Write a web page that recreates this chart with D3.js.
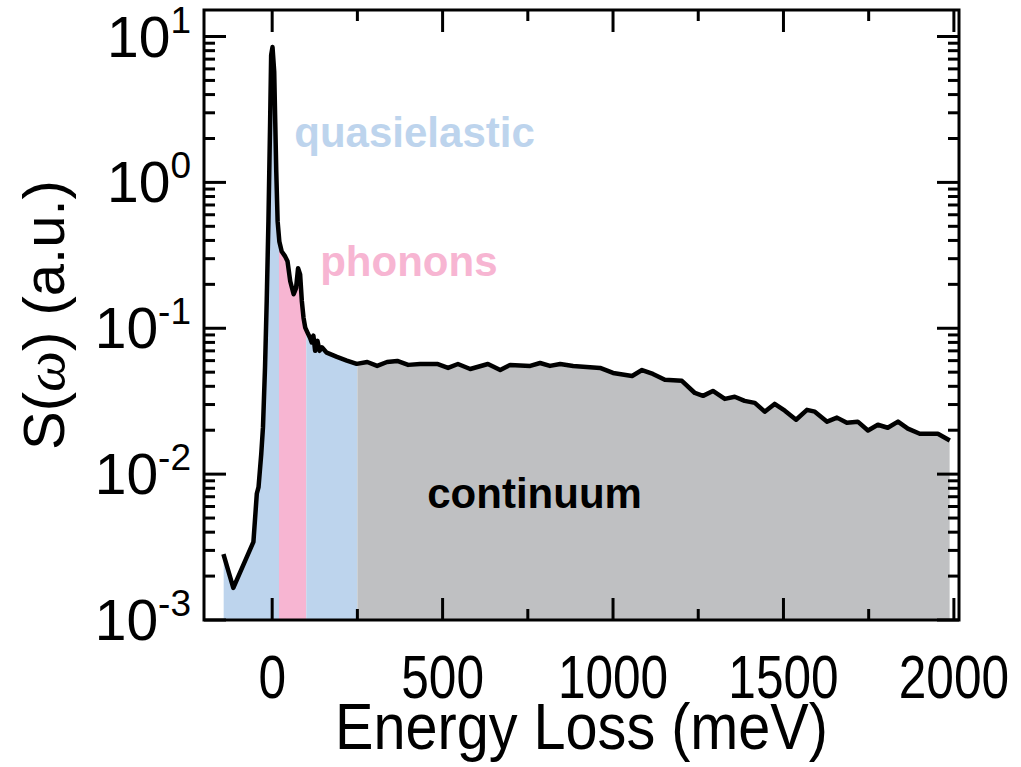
<!DOCTYPE html>
<html>
<head>
<meta charset="utf-8">
<script src="https://cdn.jsdelivr.net/npm/d3@7"></script>
<style>
body{margin:0;background:#fff;}
svg{display:block;font-family:"Liberation Sans",Arial,sans-serif;}
</style>
</head>
<body>
<svg width="1021" height="767"></svg>
<script>
// spectrum (meV, a.u.)
var energy=[-143,-114,-55,-45,-40,-32,-27,-21,-16,-11,-6,-3,1,6,9,12,16,21,28,38,45,53,63,70,76,82,87,92,97,104,111,116,121,126,133,139,146,160,190,219,248,
279,308,337,367,399,434,484,516,545,581,633,669,698,757,786,815,845,883,962,1000,1056,1085,1117,1152,1202,1240,1264,1293,1328,1357,1386,1416,1445,1474,1504,1537,1569,1592,1628,1657,1686,1718,1748,1777,1806,1836,1865,1900,1953,1988];
var intensity=[0.00283,0.00166,0.00343,0.00737,0.00814,0.0138,0.0209,0.0537,0.154,0.540,2.60,7.46,8.47,5.71,2.60,1.19,0.540,0.394,0.336,0.311,0.288,0.210,0.171,0.188,0.258,0.234,0.154,0.118,0.101,0.093,0.086,0.080,0.089,0.070,0.082,0.070,0.074,0.068,0.0636,0.060,0.057,
0.0587,0.0552,0.0587,0.0597,0.0561,0.0569,0.0569,0.0535,0.0569,0.0526,0.0569,0.0517,0.0561,0.0552,0.0578,0.0552,0.0569,0.0552,0.0535,0.0494,0.0471,0.0517,0.0486,0.0443,0.0436,0.0360,0.0344,0.0372,0.0328,0.0339,0.0318,0.0308,0.0268,0.0303,0.0272,0.0236,0.0276,0.0268,0.0229,0.0244,0.0225,0.0229,0.0199,0.0218,0.0208,0.0229,0.0205,0.0189,0.0189,0.0170];

var regionStart=[-143,20,100,250];
var regionEnd=[20,100,250,1988];
var regionKind=['quasielastic','phonons','quasielastic','continuum'];
var labelNames=['quasielastic','phonons','continuum'];
var xTicks=[0,500,1000,1500,2000];
var xMinor=[-250,250,750,1250,1750];
var yExps=[1,0,-1,-2,-3];

var colors={quasielastic:'#bdd4ed',phonons:'#f7b5d2',continuum:'#bfc0c2'};

var svg=d3.select('svg');
var L=204,R=959,T=10,B=620;

var x=d3.scaleLinear().domain([-200,2015]).range([L,R]);
var y=d3.scaleLog().domain([1e-3,15.2]).range([B,T]);

var pts=energy.map(function(e,i){return [e,intensity[i]];});

var area=d3.area().x(function(d){return x(d[0]);}).y0(y(1e-3)).y1(function(d){return y(d[1]);});
var line=d3.line().x(function(d){return x(d[0]);}).y(function(d){return y(d[1]);});

var defs=svg.append('defs');
regionStart.forEach(function(s,i){
  defs.append('clipPath').attr('id','reg'+i).append('rect')
    .attr('x',x(s)).attr('y',T).attr('width',x(regionEnd[i])-x(s)).attr('height',B-T);
  svg.append('path').datum(pts).attr('d',area).attr('fill',colors[regionKind[i]]).attr('clip-path','url(#reg'+i+')');
});

svg.append('path').datum(pts).attr('d',line).attr('fill','none').attr('stroke','#000')
  .attr('stroke-width',4.5).attr('stroke-linejoin','round');

// frame and inward ticks
var g=svg.append('g').attr('stroke','#000').attr('stroke-width',3);
xTicks.concat(xMinor).forEach(function(t){
  if(t<-200||t>2015)return;
  var len=xTicks.indexOf(t)>=0?22:11;
  g.append('line').attr('x1',x(t)).attr('x2',x(t)).attr('y1',B).attr('y2',B-len);
  g.append('line').attr('x1',x(t)).attr('x2',x(t)).attr('y1',T).attr('y2',T+len);
});
yExps.forEach(function(p){
  for(var k=1;k<10;k++){
    var v=k*Math.pow(10,p);
    if(v<1e-3||v>15.2)continue;
    var len=k==1?22:11;
    g.append('line').attr('x1',L).attr('x2',L+len).attr('y1',y(v)).attr('y2',y(v));
    g.append('line').attr('x1',R).attr('x2',R-len).attr('y1',y(v)).attr('y2',y(v));
  }
});
svg.append('rect').attr('x',L).attr('y',T).attr('width',R-L).attr('height',B-T)
  .attr('fill','none').attr('stroke','#000').attr('stroke-width',3);

// tick labels
xTicks.forEach(function(t){
  svg.append('text').attr('transform','translate('+x(t)+',698) scale(0.8,1)')
    .attr('text-anchor','middle').attr('font-size',62).text(t);
});
yExps.forEach(function(p){
  var tx=svg.append('text').attr('x',191).attr('y',y(Math.pow(10,p))+20)
    .attr('text-anchor','end').attr('font-size',57);
  tx.append('tspan').text('10');
  tx.append('tspan').attr('dy',-24).attr('font-size',37).text(p);
});

// axis titles
svg.append('text').attr('transform','translate('+((L+R)/2)+',749) scale(0.9,1)')
  .attr('text-anchor','middle').attr('font-size',64).text('Energy Loss (meV)');
var yt=svg.append('text').attr('transform','translate(64,'+((T+B)/2)+') rotate(-90)')
  .attr('text-anchor','middle').attr('font-size',58);
yt.append('tspan').text('S(');
yt.append('tspan').attr('font-family','"Liberation Serif",serif').attr('font-style','italic').text('\u03c9');
yt.append('tspan').text(') (a.u.)');

// region labels
svg.append('text').attr('x',x(65)).attr('y',y(1.76)).attr('font-size',42).attr('font-weight','bold')
  .attr('fill',colors.quasielastic).text(labelNames[0]);
svg.append('text').attr('x',x(141)).attr('y',y(0.227)).attr('font-size',42).attr('font-weight','bold')
  .attr('fill',colors.phonons).text(labelNames[1]);
svg.append('text').attr('x',x(455)).attr('y',y(0.0059)).attr('font-size',42).attr('font-weight','bold')
  .attr('fill','#000').text(labelNames[2]);
</script>
</body>
</html>
